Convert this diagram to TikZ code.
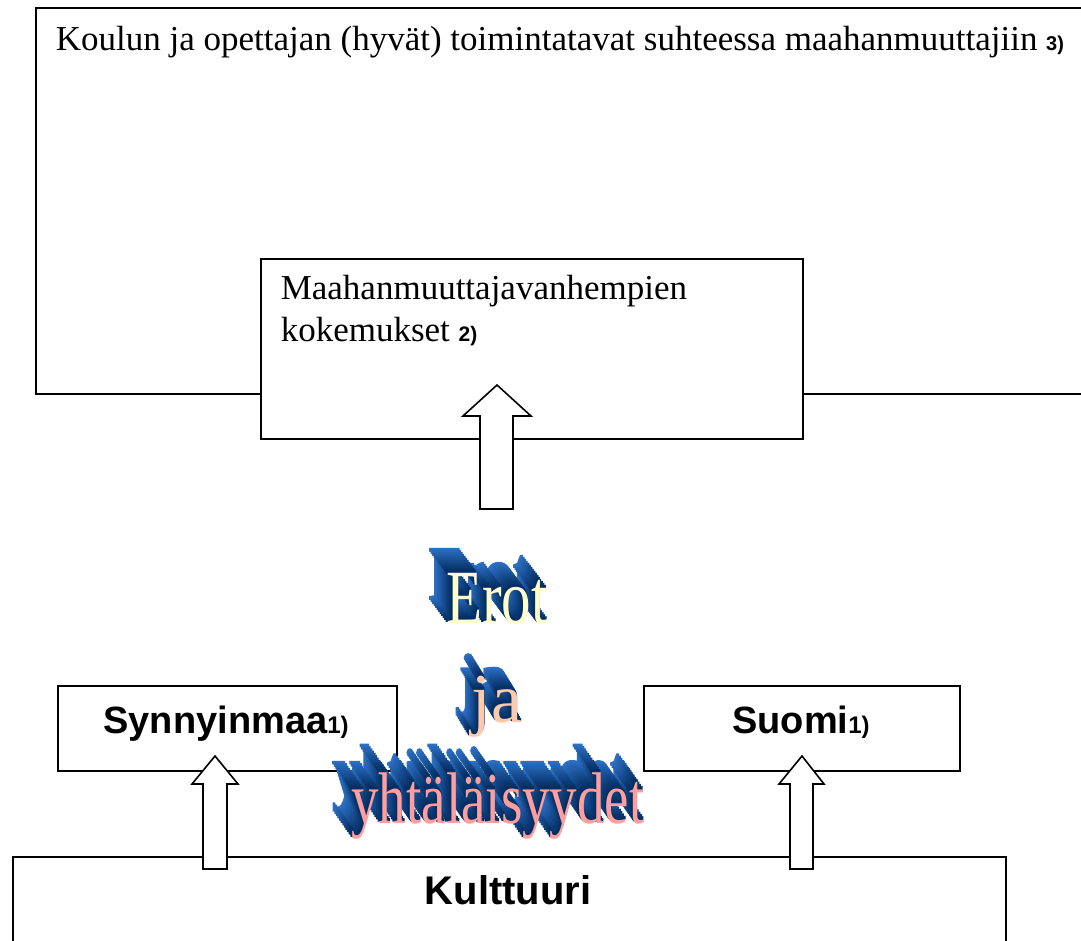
\documentclass[tikz,border=0pt]{standalone}
\usepackage{fontspec}
\setmainfont{Liberation Serif}
\newfontfamily\arialfont{Liberation Sans}
\newfontfamily\extfont{Liberation Serif}[FakeBold=2.5]
\definecolor{faceA}{HTML}{FFFFCC}
\definecolor{faceB}{HTML}{FFC9AC}
\definecolor{faceC}{HTML}{FF9E9E}
\definecolor{extback}{HTML}{2F72C8}
\definecolor{extfront}{HTML}{00295A}
\newcommand{\smalllab}[2]{{\arialfont\bfseries\fontsize{#1}{#1}\selectfont #2}}
\begin{document}
\begin{tikzpicture}[x=1pt,y=-1pt,line width=1.6pt,
  box/.style={draw=black,fill=white,line join=miter,inner sep=0pt,anchor=north west},
  blockarrow/.style={draw=black,fill=white,line join=miter},
  serif/.style={font=\fontsize{35}{40}\selectfont,inner sep=0pt,anchor=base west},
  sanslabel/.style={font=\arialfont\bfseries\fontsize{38}{40}\selectfont,inner sep=0pt,anchor=base},
  wordart/.style={inner sep=0pt,anchor=base}
]
\useasboundingbox (0,0) rectangle (1081,941);
\clip (0,0) rectangle (1081,941);
\fill[white] (0,0) rectangle (1081,941);

% outer box
\node[box,minimum width=1060pt,minimum height=386pt] (outer) at (35,7) {};
\node[serif,font=\fontsize{35}{40}\selectfont] (outertext) at (55,51) {Koulun ja opettajan (hyvät) toimintatavat suhteessa maahanmuuttajiin \smalllab{20}{3)}};

% inner box
\node[box,minimum width=542pt,minimum height=180pt] (inner) at (260,258) {};
\node[serif] (innertext1) at (280,299) {Maahanmuuttajavanhempien};
\node[serif] (innertext2) at (280,341) {kokemukset \smalllab{21}{2)}};

% main block arrow
\draw[blockarrow] (497,385) -- (531,416) -- (513,416) -- (513,509) -- (480,509) -- (480,416) -- (463,416) -- cycle;

% lower boxes
\node[box,minimum width=339pt,minimum height=85pt] (synn) at (57,685) {};
\node[box,minimum width=316pt,minimum height=85pt] (suomi) at (643,685) {};
\node[box,minimum width=993pt,minimum height=140pt] (kult) at (12,856) {};

\node[sanslabel] (synnlabel) at (226,733) {Synnyinmaa\smalllab{24}{1)}};
\node[sanslabel] (suomilabel) at (801,733) {Suomi\smalllab{24}{1)}};
\node[sanslabel,font=\arialfont\bfseries\fontsize{40}{40}\selectfont] (kultlabel) at (508,904) {Kulttuuri};

% small block arrows
\draw[blockarrow] (215,756) -- (238,784) -- (227,784) -- (227,869) -- (203,869) -- (203,784) -- (192,784) -- cycle;
\draw[blockarrow] (802,756) -- (824,784) -- (813,784) -- (813,869) -- (790,869) -- (790,784) -- (779,784) -- cycle;

% word art with extrusion
\foreach \k in {12,11,...,1}{
  \pgfmathsetmacro{\p}{\k*8}
  \node[wordart,text=extback!\p!extfront] (erotx\k) at (497-1.5*\k,623-2.0*\k)
     {\scalebox{1}[1.3]{\extfont\fontsize{59}{59}\selectfont Erot}};
  \node[wordart,text=extback!\p!extfront] (jax\k) at (497-1.1*\k,722-1.8*\k)
     {\extfont\fontsize{70}{70}\selectfont ja};
  \node[wordart,text=extback!\p!extfront] (yhtx\k) at (498-1.6*\k,823-2.3*\k)
     {\scalebox{1}[1.33]{\extfont\fontsize{55}{55}\selectfont yhtäläisyydet}};
}
\node[wordart,text=faceA] (erot) at (497,623) {\scalebox{1}[1.3]{\fontsize{59}{59}\selectfont Erot}};
\node[wordart,text=faceB] (ja) at (497,722) {\fontsize{70}{70}\selectfont ja};
\node[wordart,text=faceC] (yht) at (498,823) {\scalebox{1}[1.33]{\fontsize{55}{55}\selectfont yhtäläisyydet}};
\end{tikzpicture}
\end{document}
